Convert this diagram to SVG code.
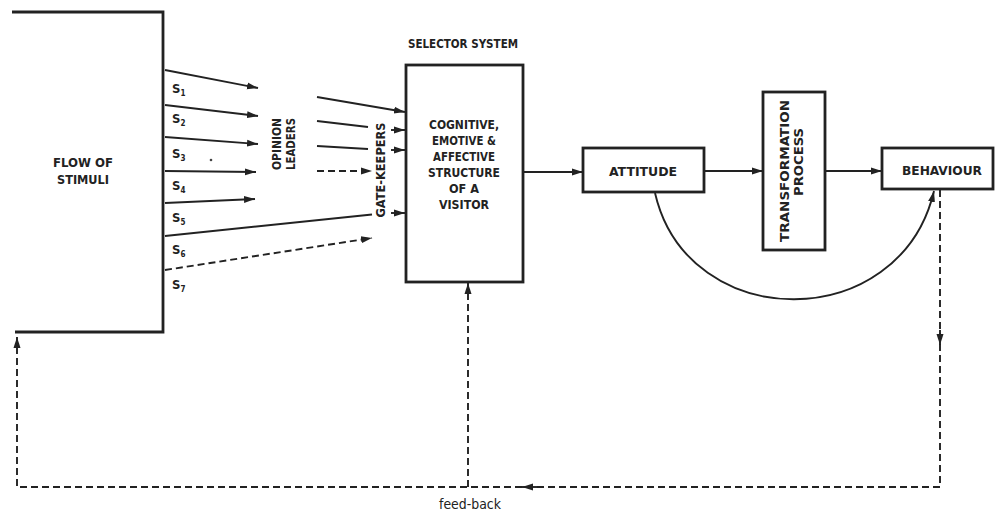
<svg xmlns="http://www.w3.org/2000/svg" width="995" height="516" viewBox="0 0 995 516">
<defs>
<marker id="ah" markerUnits="userSpaceOnUse" markerWidth="12" markerHeight="9" refX="11" refY="4.5" orient="auto"><path d="M0,1 L11,4.5 L0,8 z" fill="#222"/></marker>
<style>
.b{font-family:"DejaVu Sans Condensed","Liberation Sans Narrow","Liberation Sans",sans-serif;font-weight:bold;fill:#222;text-anchor:middle}
.r{font-family:"DejaVu Sans Condensed","Liberation Sans",sans-serif;fill:#222}
.box{fill:#fff;stroke:#222;stroke-width:2.8}
.ln{fill:none;stroke:#222;stroke-width:1.9}
.th{fill:none;stroke:#222;stroke-width:2.8}
.ds{fill:none;stroke:#222;stroke-width:1.9;stroke-dasharray:7,4}
</style>
</defs>
<rect width="995" height="516" fill="#fff"/>

<g id="flow-of-stimuli">
<path class="th" d="M12,12 H163 V332 H15"/>
<text class="b" x="83" y="167" font-size="13" textLength="60" lengthAdjust="spacingAndGlyphs">FLOW OF</text>
<text class="b" x="83" y="184" font-size="13" textLength="52" lengthAdjust="spacingAndGlyphs">STIMULI</text>
</g>

<g id="stimuli-labels" class="r" font-size="13" font-weight="bold">
<text x="172" y="93">S<tspan font-size="8" dy="3">1</tspan></text>
<text x="172" y="123">S<tspan font-size="8" dy="3">2</tspan></text>
<text x="172" y="158">S<tspan font-size="8" dy="3">3</tspan></text>
<text x="172" y="190">S<tspan font-size="8" dy="3">4</tspan></text>
<text x="172" y="222">S<tspan font-size="8" dy="3">5</tspan></text>
<text x="172" y="254">S<tspan font-size="8" dy="3">6</tspan></text>
<text x="172" y="289">S<tspan font-size="8" dy="3">7</tspan></text>
</g>
<circle cx="211" cy="160" r="1.3" fill="#444"/>

<g id="opinion-leaders">
<text class="b" font-size="12" transform="translate(281,144) rotate(-90)" textLength="52" lengthAdjust="spacingAndGlyphs">OPINION</text>
<text class="b" font-size="12" transform="translate(295,144) rotate(-90)" textLength="52" lengthAdjust="spacingAndGlyphs">LEADERS</text>
</g>

<g id="gate-keepers">
<text class="b" font-size="12.5" transform="translate(385,170) rotate(-90)" textLength="95" lengthAdjust="spacingAndGlyphs">GATE-KEEPERS</text>
</g>

<g id="selector-system">
<text class="b" x="463" y="48" font-size="13" textLength="110" lengthAdjust="spacingAndGlyphs">SELECTOR SYSTEM</text>
<rect class="box" x="406" y="65" width="117" height="217"/>
<text class="b" x="464" y="129" font-size="12.5" textLength="70" lengthAdjust="spacingAndGlyphs">COGNITIVE,</text>
<text class="b" x="464" y="145" font-size="12.5" textLength="64" lengthAdjust="spacingAndGlyphs">EMOTIVE &amp;</text>
<text class="b" x="464" y="161" font-size="12.5" textLength="62" lengthAdjust="spacingAndGlyphs">AFFECTIVE</text>
<text class="b" x="464" y="177" font-size="12.5" textLength="72" lengthAdjust="spacingAndGlyphs">STRUCTURE</text>
<text class="b" x="464" y="193" font-size="12.5" textLength="30" lengthAdjust="spacingAndGlyphs">OF A</text>
<text class="b" x="464" y="209" font-size="12.5" textLength="50" lengthAdjust="spacingAndGlyphs">VISITOR</text>
</g>

<g id="attitude">
<rect class="box" x="583" y="148" width="121" height="44"/>
<text class="b" x="643" y="176" font-size="12.5" textLength="68" lengthAdjust="spacingAndGlyphs">ATTITUDE</text>
</g>

<g id="transformation-process">
<rect class="box" x="763" y="92" width="62" height="158"/>
<text class="b" font-size="12.5" transform="translate(789,171) rotate(-90)" textLength="142" lengthAdjust="spacingAndGlyphs">TRANSFORMATION</text>
<text class="b" font-size="12.5" transform="translate(803,162) rotate(-90)" textLength="68" lengthAdjust="spacingAndGlyphs">PROCESS</text>
</g>

<g id="behaviour">
<rect class="box" x="882" y="148" width="111" height="41"/>
<text class="b" x="942" y="175" font-size="12.5" textLength="80" lengthAdjust="spacingAndGlyphs">BEHAVIOUR</text>
</g>

<g id="feed-back-label">
<text class="r" x="470" y="509" font-size="14" text-anchor="middle" textLength="62" lengthAdjust="spacingAndGlyphs">feed-back</text>
</g>

<g id="connectors">
<line class="ln" x1="165" y1="70" x2="258" y2="88" marker-end="url(#ah)"/>
<line class="ln" x1="165" y1="105" x2="258" y2="116" marker-end="url(#ah)"/>
<line class="ln" x1="165" y1="137" x2="258" y2="144" marker-end="url(#ah)"/>
<line class="ln" x1="165" y1="171" x2="256" y2="172" marker-end="url(#ah)"/>
<line class="ln" x1="165" y1="203" x2="255" y2="199" marker-end="url(#ah)"/>
<line class="ln" x1="165" y1="236" x2="372" y2="214.5"/>
<line class="ln" x1="391" y1="213" x2="405" y2="213" marker-end="url(#ah)"/>
<line class="ds" x1="165" y1="270" x2="372" y2="238" marker-end="url(#ah)"/>

<line class="ln" x1="317" y1="97" x2="405" y2="112" marker-end="url(#ah)"/>
<line class="ln" x1="317" y1="121" x2="368" y2="127"/>
<line class="ln" x1="391" y1="130" x2="405" y2="130" marker-end="url(#ah)"/>
<line class="ln" x1="317" y1="146" x2="368" y2="149"/>
<line class="ln" x1="391" y1="150" x2="405" y2="150" marker-end="url(#ah)"/>
<line class="ds" x1="317" y1="171" x2="372" y2="171" marker-end="url(#ah)"/>

<line class="ln" x1="523" y1="172" x2="583" y2="172" marker-end="url(#ah)"/>
<line class="ln" x1="704" y1="171" x2="763" y2="171" marker-end="url(#ah)"/>
<line class="ln" x1="825" y1="171" x2="882" y2="171" marker-end="url(#ah)"/>

<path class="ln" d="M655,193 C688,335 900,335 934,191" marker-end="url(#ah)"/>

<path class="ds" d="M940,190 V487 H17 V337" marker-end="url(#ah)"/>
<line class="ln" x1="940" y1="330" x2="940" y2="345" marker-end="url(#ah)"/>
<line class="ln" x1="540" y1="487" x2="522" y2="487" marker-end="url(#ah)"/>
<path class="ds" d="M468,487 V283" marker-end="url(#ah)"/>
</g>
</svg>
